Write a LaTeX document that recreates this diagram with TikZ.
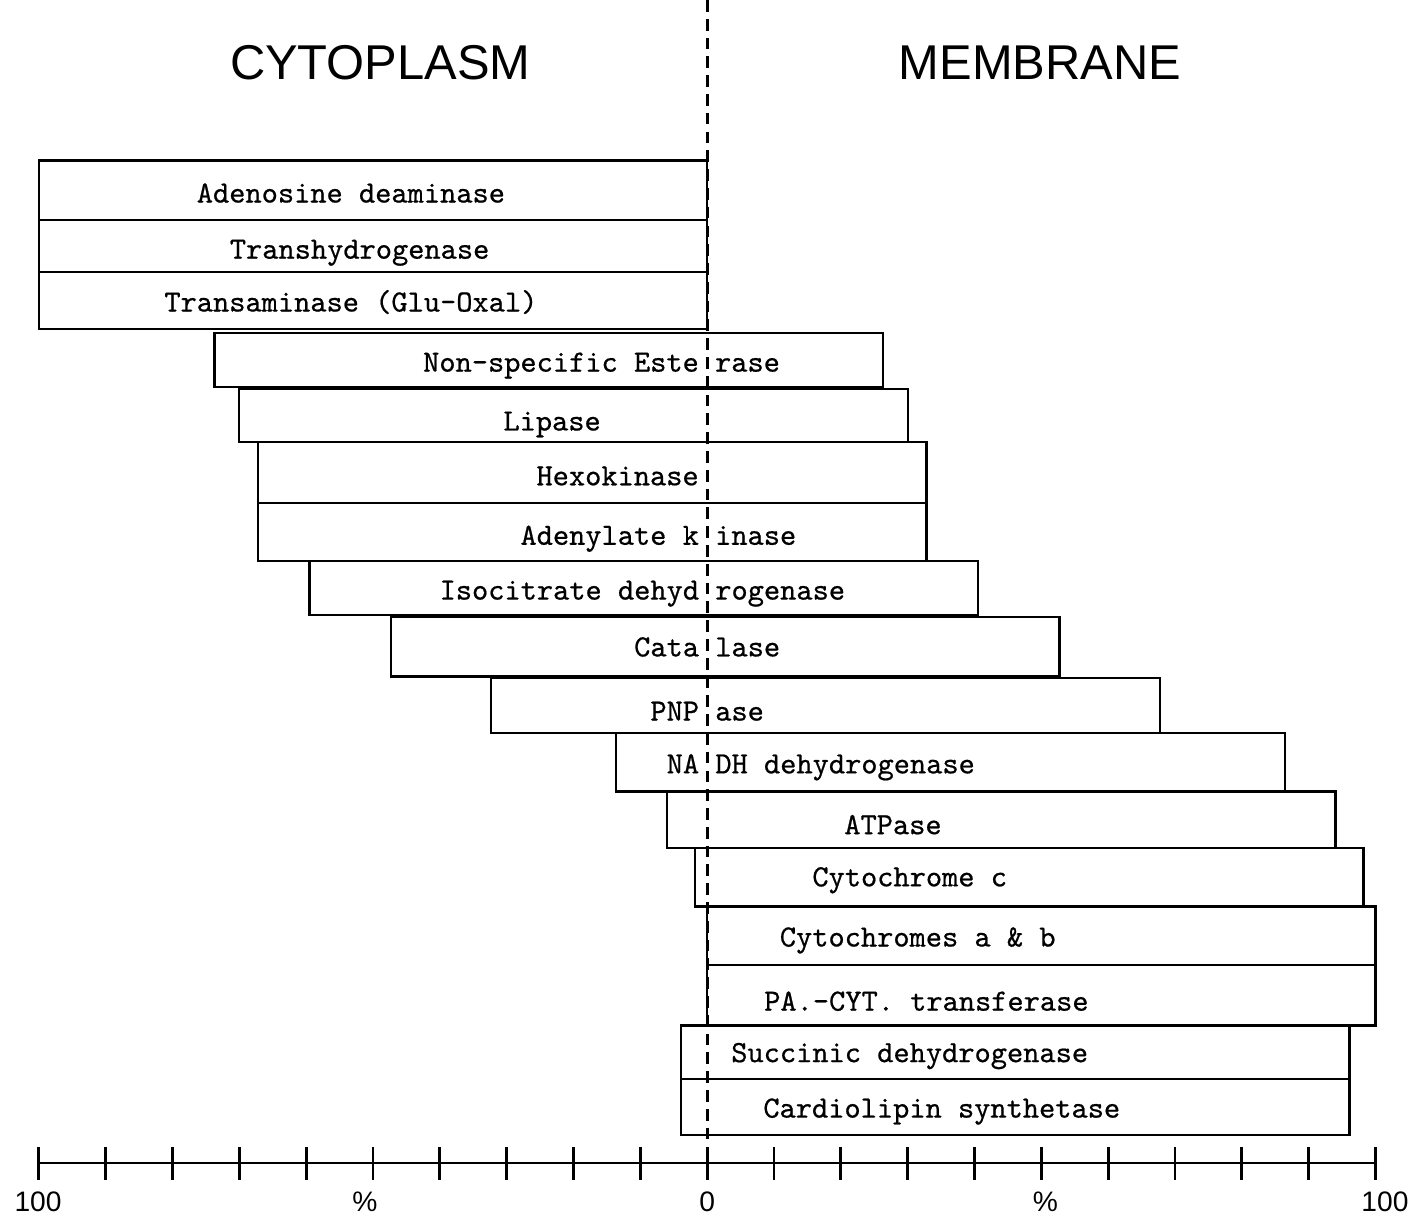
\documentclass[tikz,border=0pt]{standalone}
\usepackage{fontspec}
\newfontfamily\lettering{Liberation Sans}
\newfontfamily\typewriter[Extension=.otf, FakeBold=0.6]{lmmono10-regular}

\tikzset{
  bar/.style={line width=1pt},
  enzyme/.style={font=\fontsize{13.15}{15}\selectfont\typewriter, inner sep=0pt, text height=8pt, text depth=0pt},
  heading/.style={font=\fontsize{20.8}{24}\selectfont\lettering, inner sep=0pt, text height=14.9pt, text depth=0pt},
  scalelabel/.style={font=\fontsize{12}{14}\selectfont\lettering, inner sep=0pt, text height=8.6pt, text depth=0pt},
  divider/.style={line width=1.2pt, dash pattern=on 5pt off 3pt},
  axisline/.style={line width=1.2pt}
}

\begin{document}
\begin{tikzpicture}
\useasboundingbox (-10.58,-0.81) rectangle (10.59,17.40);

% headings
\node[heading] (cyto) at (-4.89,16.47) {CYTOPLASM};
\node[heading] (memb) at (4.98,16.47) {MEMBRANE};

% bars, each 100% wide
\draw[bar] (-10,15.00) rectangle (0,14.11);
\draw[bar] (-10,14.11) rectangle (0,13.33);
\draw[bar] (-10,13.33) rectangle (0,12.48);
\draw[bar] (-7.37,12.42) rectangle (2.63,11.61);
\draw[bar] (-7.00,11.58) rectangle (3.00,10.79);
\draw[bar] (-6.72,10.79) rectangle (3.28,9.87);
\draw[bar] (-6.72,9.87) rectangle (3.28,9.01);
\draw[bar] (-5.95,9.01) rectangle (4.05,8.20);
\draw[bar] (-4.73,8.17) rectangle (5.27,7.28);
\draw[bar] (-3.23,7.26) rectangle (6.77,6.43);
\draw[bar] (-1.36,6.43) rectangle (8.64,5.56);
\draw[bar] (-0.60,5.56) rectangle (9.40,4.71);
\draw[bar] (-0.18,4.71) rectangle (9.82,3.84);
\draw[bar] (0,3.84) rectangle (10,2.96);
\draw[bar] (0,2.96) rectangle (10,2.06);
\draw[bar] (-0.39,2.06) rectangle (9.61,1.26);
\draw[bar] (-0.39,1.26) rectangle (9.61,0.42);

% enzyme names
\node[enzyme] (adenosine) at (-5.33,14.51) {Adenosine deaminase};
\node[enzyme] (transhyd) at (-5.20,13.67) {Transhydrogenase};
\node[enzyme] (transam) at (-5.33,12.88) {Transaminase (Glu-Oxal)};
\node[enzyme] (esterase) at (-1.58,11.98) {Non-specific Este rase};
\node[enzyme] (lipase) at (-2.32,11.10) {Lipase};
\node[enzyme] (hexo) at (-1.34,10.28) {Hexokinase};
\node[enzyme] (adenylate) at (-0.73,9.39) {Adenylate k inase};
\node[enzyme] (isocit) at (-0.97,8.57) {Isocitrate dehyd rogenase};
\node[enzyme] (catalase) at (0,7.72) {Cata lase};
\node[enzyme] (pnpase) at (0,6.76) {PNP ase};
\node[enzyme] (nadh) at (1.70,5.97) {NA DH dehydrogenase};
\node[enzyme] (atpase) at (2.78,5.06) {ATPase};
\node[enzyme] (cytc) at (3.03,4.28) {Cytochrome c};
\node[enzyme] (cytab) at (3.15,3.38) {Cytochromes a \& b};
\node[enzyme] (transf) at (3.28,2.42) {PA.-CYT. transferase};
\node[enzyme] (succinic) at (3.03,1.65) {Succinic dehydrogenase};
\node[enzyme] (cardio) at (3.51,0.82) {Cardiolipin synthetase};

% dividing line
\coordinate (divtop) at (0,17.40);
\coordinate (divbot) at (0,0.35);
\draw[divider] (divtop) -- (divbot);

% percent scale
\coordinate (cyto100) at (-10,0);
\coordinate (memb100) at (10,0);
\draw[axisline] (cyto100) -- (memb100);
\foreach \x in {-10,...,10}
  \draw[axisline] (\x,-0.25) -- (\x,0.24);
\node[scalelabel] (leftend) at (-10.01,-0.58) {100};
\node[scalelabel] (leftpct) at (-5.12,-0.58) {\%};
\node[scalelabel] (zero) at (0,-0.58) {0};
\node[scalelabel] (rightpct) at (5.06,-0.58) {\%};
\node[scalelabel] (rightend) at (10.14,-0.58) {100};
\end{tikzpicture}
\end{document}
